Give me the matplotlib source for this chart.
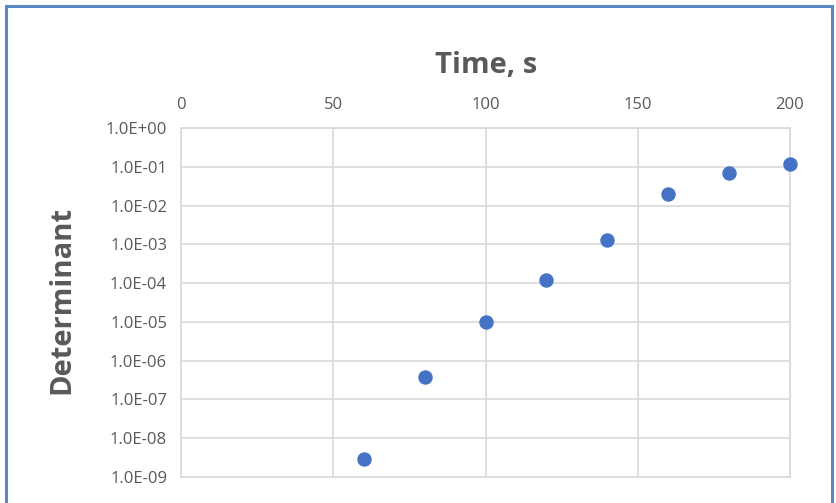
import matplotlib
matplotlib.use("Agg")
import matplotlib.pyplot as plt
from matplotlib.patches import Rectangle
from matplotlib.ticker import FixedLocator, FuncFormatter

time_s = [60, 80, 100, 120, 140, 160, 180, 200]
determinant = [2.9e-9, 3.8e-7, 9.8e-6, 1.2e-4, 1.3e-3, 1.95e-2, 6.8e-2, 1.16e-1]
x_ticks = [0, 50, 100, 150, 200]
y_ticks = [1e-9, 1e-8, 1e-7, 1e-6, 1e-5, 1e-4, 1e-3, 1e-2, 1e-1, 1e0]

plt.rcParams['font.family'] = ['Open Sans', 'DejaVu Sans']

fig = plt.figure(figsize=(8.36, 5.03), dpi=100)
W, H = 836, 503
x0, x1, y0, y1 = 181, 790, 128, 477
ax = fig.add_axes([x0 / W, 1 - y1 / H, (x1 - x0) / W, (y1 - y0) / H])

grid_c = '#D9D9D9'
text_c = '#595959'

ax.scatter(time_s, determinant, s=88, color='#4472C4', zorder=3, clip_on=False)
ax.set_yscale('log')
ax.set_xlim(0, 200)
ax.set_ylim(1e-9, 1e0)
ax.xaxis.set_major_locator(FixedLocator(x_ticks))
ax.yaxis.set_major_locator(FixedLocator(y_ticks))
ax.yaxis.set_minor_locator(FixedLocator([]))
ax.yaxis.set_major_formatter(FuncFormatter(lambda v, p: '%.1E' % v))
ax.xaxis.tick_top()
ax.xaxis.set_label_position('top')
ax.tick_params(axis='both', length=0, labelsize=12, colors=text_c)
ax.tick_params(axis='x', pad=11)
ax.tick_params(axis='y', pad=10)
ax.grid(True, color=grid_c, linewidth=1.2)
ax.set_axisbelow(True)
for sp in ax.spines.values():
    sp.set_color(grid_c)
    sp.set_linewidth(1.2)

ax.set_xlabel('Time, s', fontsize=21, fontweight='bold', color=text_c)
ax.xaxis.set_label_coords((486 - x0) / (x1 - x0), (y1 - 73) / (y1 - y0))
ax.set_ylabel('Determinant', fontsize=21, fontweight='bold', color=text_c)
ax.yaxis.set_label_coords((76 - x0) / (x1 - x0), (y1 - 300) / (y1 - y0))

fig.patches.append(Rectangle((6 / W, -0.05), (832 - 6) / W, 1.05 - 6 / H, transform=fig.transFigure,
                             fill=False, edgecolor='#5B87C5', linewidth=2.2))

fig.savefig('out.png', dpi=100)
